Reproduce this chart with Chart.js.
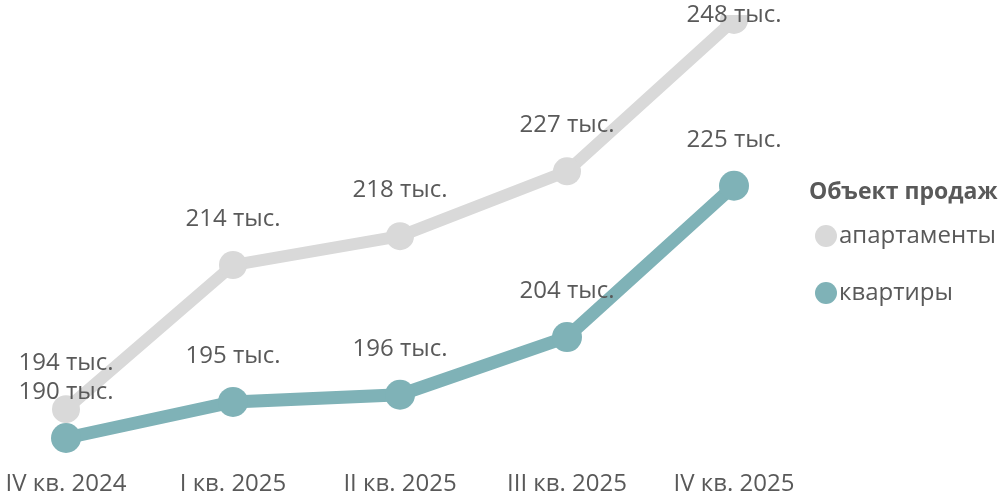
<!DOCTYPE html>
<html>
<head>
<meta charset="utf-8">
<script src="https://cdn.jsdelivr.net/npm/chart.js@4/dist/chart.umd.min.js"></script>
<style>
html,body{margin:0;padding:0;background:#fff;}
#wrap{width:1002px;height:496px;position:relative;}
</style>
</head>
<body>
<div id="wrap"><canvas id="c"></canvas></div>
<script>
const categories = ["IV кв. 2024", "I кв. 2025", "II кв. 2025", "III кв. 2025", "IV кв. 2025"];
const apartments = [194, 214, 218, 227, 248];
const flats = [190, 195, 196, 204, 225];
const seriesNames = ["апартаменты", "квартиры"];
const legendTitle = "Объект продаж";
const unitSuffix = " тыс.";

const TEXT = "#595959";
const GRAY = "#d9d9d9";
const TEAL = "#7fb2b7";
const FONT = "'Open Sans', 'Noto Sans', sans-serif";

const dataLabels = {
  id: "dataLabels",
  afterDatasetsDraw(chart) {
    const ctx = chart.ctx;
    ctx.save();
    ctx.font = "24px " + FONT;
    ctx.fillStyle = TEXT;
    ctx.textAlign = "center";
    ctx.textBaseline = "middle";
    chart.data.datasets.forEach((ds, i) => {
      const meta = chart.getDatasetMeta(i);
      meta.data.forEach((pt, j) => {
        const y = Math.max(pt.y - 46, 15);
        ctx.fillText(ds.data[j] + unitSuffix, pt.x, y);
      });
    });
    ctx.restore();
  }
};

const sideLegend = {
  id: "sideLegend",
  afterDraw(chart) {
    const ctx = chart.ctx;
    ctx.save();
    ctx.fillStyle = TEXT;
    ctx.textAlign = "left";
    ctx.textBaseline = "middle";
    ctx.font = "bold 23px " + FONT;
    ctx.fillText(legendTitle, 809, 192);
    chart.data.datasets.forEach((ds, i) => {
      const cy = 236 + i * 57;
      ctx.beginPath();
      ctx.fillStyle = ds.pointBackgroundColor;
      ctx.arc(826, cy, 11, 0, Math.PI * 2);
      ctx.fill();
      ctx.fillStyle = TEXT;
      ctx.font = "24px " + FONT;
      ctx.fillText(ds.label, 839, cy);
    });
    ctx.restore();
  }
};

new Chart(document.getElementById("c"), {
  type: "line",
  data: {
    labels: categories,
    datasets: [
      {
        label: seriesNames[0],
        data: apartments,
        borderColor: GRAY,
        backgroundColor: GRAY,
        pointBackgroundColor: GRAY,
        pointBorderWidth: 0,
        pointRadius: 14,
        pointHoverRadius: 14,
        borderWidth: 12,
        order: 1
      },
      {
        label: seriesNames[1],
        data: flats,
        borderColor: TEAL,
        backgroundColor: TEAL,
        pointBackgroundColor: TEAL,
        pointBorderWidth: 0,
        pointRadius: 15,
        pointHoverRadius: 15,
        borderWidth: 13,
        order: 0
      }
    ]
  },
  options: {
    responsive: true,
    maintainAspectRatio: false,
    animation: false,
    events: [],
    layout: { padding: { left: 66, right: 268, top: 6, bottom: 0 } },
    plugins: {
      legend: { display: false },
      tooltip: { enabled: false }
    },
    scales: {
      x: {
        offset: false,
        grid: { display: false, drawTicks: false },
        border: { display: false },
        ticks: { color: TEXT, font: { family: FONT, size: 24, lineHeight: 0.62 }, padding: 10, maxRotation: 0, autoSkip: false },
        afterFit(scale) {
          scale.height = 29.4;
          scale.paddingLeft = 0;
          scale.paddingRight = 0;
          scale.paddingTop = 0;
          scale.paddingBottom = 0;
        }
      },
      y: {
        display: false,
        min: 186.03,
        max: 248.69
      }
    }
  },
  plugins: [dataLabels, sideLegend]
});
</script>
</body>
</html>
